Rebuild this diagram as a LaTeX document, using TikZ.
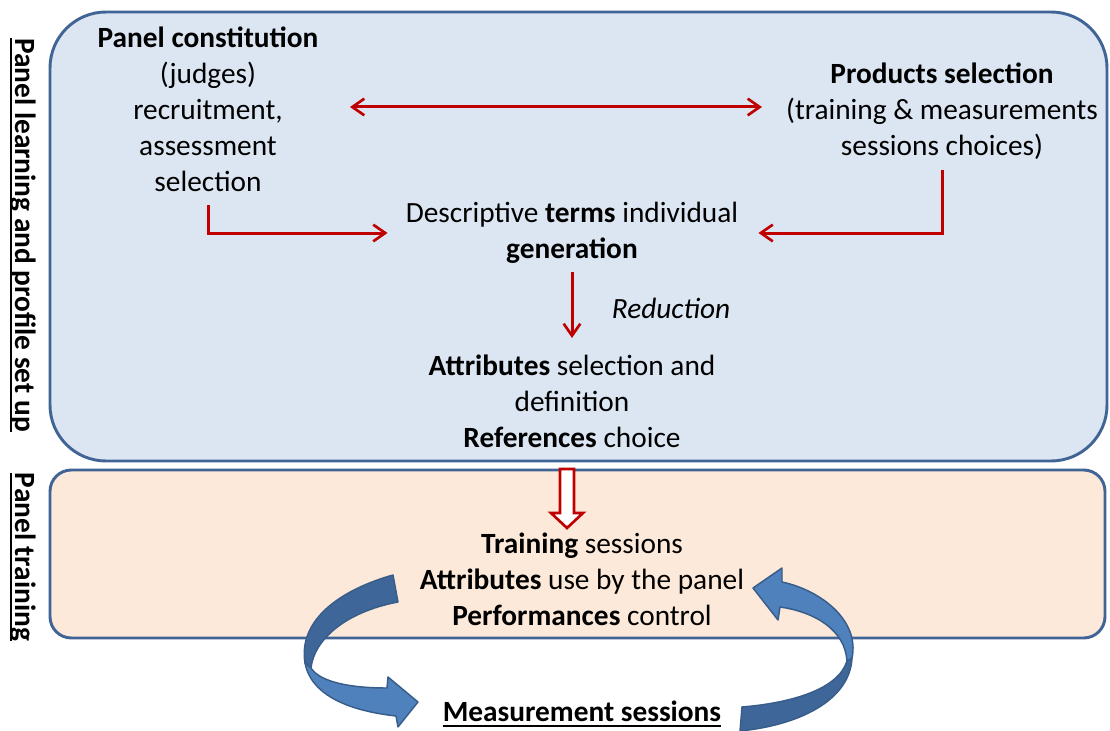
\documentclass[tikz,border=0pt]{standalone}
\usepackage{fontspec}
\setmainfont{Carlito}
\usetikzlibrary{arrows.meta}
\definecolor{panelblue}{RGB}{220,230,242}
\definecolor{panelorange}{RGB}{253,233,217}
\definecolor{frameblue}{RGB}{65,100,150}
\definecolor{arrowred}{RGB}{192,0,0}
\definecolor{bandlight}{RGB}{79,129,189}
\definecolor{banddark}{RGB}{62,102,152}
\definecolor{bandedge}{RGB}{56,93,138}
\begin{document}
\begin{tikzpicture}[x=0.75pt,y=-0.75pt,
  txt/.style={align=center,font=\fontsize{22}{27}\selectfont,inner sep=0pt},
  sidelabel/.style={rotate=-90,font=\fontsize{22}{26}\selectfont\bfseries,inner sep=0pt},
  uline/.style={line width=1.5pt},
  panelframe/.style={draw=frameblue,line width=2.2pt},
  barb/.tip={Straight Barb[length=9pt,width=12.5pt,line width=2pt]},
  redarrow/.style={draw=arrowred,line width=2.25pt,-barb},
  band/.style={draw=bandedge,line width=1.1pt,line join=round}]
\useasboundingbox (0,0) rectangle (1110,731);
% panels
\draw[panelframe,fill=panelblue,rounded corners=42pt] (50,12) rectangle (1107,461);
\draw[panelframe,fill=panelorange,rounded corners=16pt] (50,470) rectangle (1105,638);
% side labels
\node[sidelabel] (lab1) at (23,235) {Panel learning and profile set up};
\draw[uline] ([xshift=-3.5pt]lab1.base west) -- ([xshift=-3.5pt]lab1.base east);
\node[sidelabel] (lab2) at (23,557) {Panel training};
\draw[uline] ([xshift=-3.5pt]lab2.base west) -- ([xshift=-3.5pt]lab2.base east);
% texts
\node[txt] (pc) at (208,109) {\textbf{Panel constitution}\\(judges)\\recruitment,\\assessment\\selection};
\node[txt] (ps) at (942,111) {\textbf{Products selection}\\(training \& measurements\\sessions choices)};
\node[txt] (desc) at (572,233) {Descriptive \textbf{terms} individual\\\textbf{generation}};
\node[txt] (red) at (671,308) {\textit{Reduction}};
\node[txt] (attr) at (572,401) {\textbf{Attributes} selection and\\definition\\\textbf{References} choice};
\node[txt] (train) at (582,579) {\textbf{Training} sessions\\\textbf{Attributes} use by the panel\\\textbf{Performances} control};
\node[txt,font=\fontsize{22}{26}\selectfont\bfseries] (meas) at (582,711) {Measurement sessions};
\draw[uline] ([yshift=-3.5pt]meas.base west) -- ([yshift=-3.5pt]meas.base east);
% red connectors
\coordinate (dl) at (350,107);
\coordinate (dr) at (762,107);
\draw[redarrow,barb-barb] (dl) -- (dr);
\coordinate (la) at (208,205);
\draw[redarrow] (la) |- ([xshift=-13.5pt]desc.west);
\coordinate (ra) at (942,170);
\draw[redarrow] (ra) |- ([xshift=15pt]desc.east);
\coordinate (da) at (572,272);
\coordinate (db) at (572,338);
\draw[redarrow] (da) -- (db);
% hollow arrow
\draw[draw=arrowred,fill=white,line width=2pt,line join=miter]
  (560,469) -- (574,469) -- (574,513) -- (583,513) -- (567,528) -- (551,513) -- (560,513) -- cycle;
% left curved arrow
\draw[band,fill=banddark] (393,575) .. controls (340,590) and (298,620) .. (305,663)
  -- (311,668) .. controls (314,640) and (345,612) .. (398,602) -- cycle;
\draw[band,fill=bandlight] (305,663) .. controls (312,700) and (360,712) .. (396,716)
  -- (398,727) -- (418,702) -- (388,677) -- (387,688)
  .. controls (350,688) and (320,682) .. (311,668) -- cycle;
% right curved arrow
\draw[band,fill=banddark] (740,731) .. controls (800,725) and (850,700) .. (852,658)
  -- (847,661) .. controls (838,690) and (790,703) .. (742,707) -- cycle;
\draw[band,fill=bandlight] (852,658) .. controls (860,620) and (820,590) .. (782,582)
  -- (782,568) -- (753,588) -- (778,620) -- (780,607)
  .. controls (815,612) and (845,630) .. (847,661) -- cycle;
\end{tikzpicture}
\end{document}
